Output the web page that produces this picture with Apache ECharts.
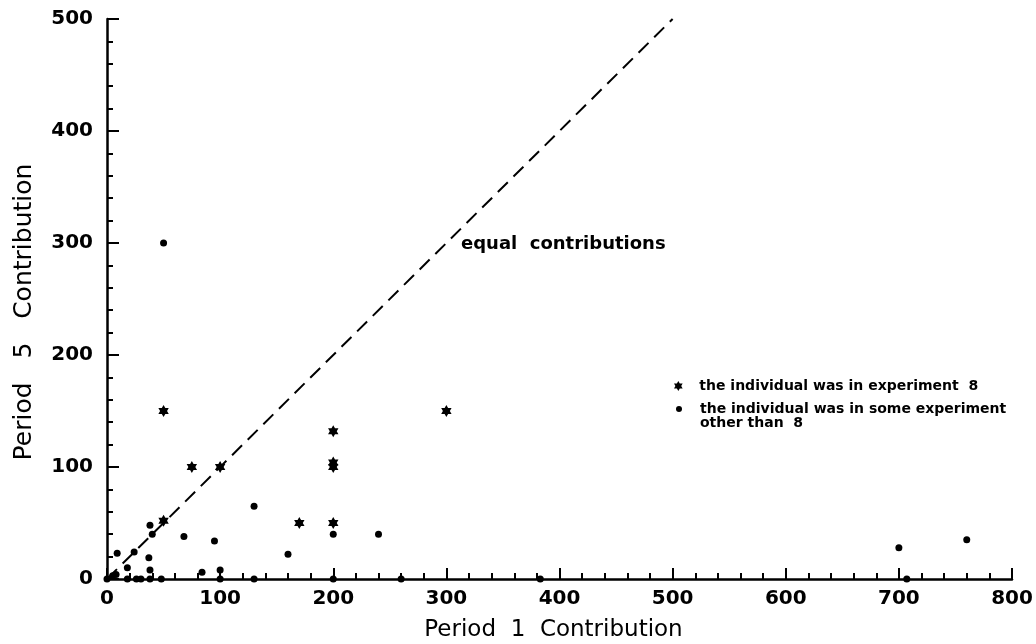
<!DOCTYPE html>
<html>
<head>
<meta charset="utf-8">
<script src="https://cdn.jsdelivr.net/npm/echarts@6/dist/echarts.min.js"></script>
<style>
html,body{margin:0;padding:0;background:#fff;}
#chart{width:1036px;height:644px;}
</style>
</head>
<body>
<div id="chart"></div>
<script>
// ---- data ----
var xTicks = [0, 100, 200, 300, 400, 500, 600, 700, 800];
var yTicks = [0, 100, 200, 300, 400, 500];
var experiment8 = [
  [50, 150], [75, 100], [100, 100], [50, 52], [170, 50],
  [200, 50], [200, 132], [200, 104], [200, 100], [300, 150]
];
var otherExperiments = [
  [0, 0], [5, 3], [8, 4], [18, 10], [9, 23], [24, 24], [38, 48], [40, 40],
  [37, 19], [38, 8], [18, 0], [26, 0], [30, 0], [38, 0], [48, 0],
  [50, 300], [68, 38], [84, 6], [95, 34], [100, 8], [100, 0], [130, 65],
  [130, 0], [160, 22], [200, 40], [200, 0], [240, 40], [260, 0],
  [383, 0], [700, 28], [707, 0], [760, 35]
];
var equalLine = [[0, 0], [500, 500]];
var legendNames = [
  'the individual was in experiment  8',
  'the individual was in some experiment'
];
var legendContinuation = 'other than  8';

var starPath = 'path://M50,0L64.5,24.9L93.3,25L79,50L93.3,75L64.5,75.1L50,100L35.5,75.1L6.7,75L21,50L6.7,25L35.5,24.9Z';

var chart = echarts.init(document.getElementById('chart'));
var tickFont = {fontFamily: 'DejaVu Sans', fontSize: 20, fontWeight: 'bold', color: '#000'};
var axisLine = {show: true, onZero: false, lineStyle: {color: '#000', width: 2.5}};
var legendText = {fontFamily: 'DejaVu Sans', fontSize: 14, fontWeight: 'bold', color: '#000', lineHeight: 16};

chart.setOption({
  backgroundColor: '#fff',
  animation: false,
  grid: {left: 107, right: 24, top: 19, bottom: 65, containLabel: false, outerBoundsMode: 'none'},
  xAxis: {
    type: 'value', min: xTicks[0], max: xTicks[xTicks.length - 1], interval: 100,
    axisLine: axisLine,
    axisTick: {show: true, inside: true, length: 11, lineStyle: {color: '#000', width: 2}},
    minorTick: {show: true, splitNumber: 5, length: 6, lineStyle: {color: '#000', width: 2}},
    splitLine: {show: false},
    axisLabel: Object.assign({margin: 10}, tickFont),
    name: 'Period  1  Contribution',
    nameLocation: 'middle', nameGap: 40,
    nameTextStyle: {fontFamily: 'DejaVu Sans', fontSize: 23, color: '#000', padding: [0, 12, 0, 0]}
  },
  yAxis: {
    type: 'value', min: yTicks[0], max: yTicks[yTicks.length - 1], interval: 100,
    axisLine: axisLine,
    axisTick: {show: true, inside: true, length: 12, lineStyle: {color: '#000', width: 2}},
    minorTick: {show: true, splitNumber: 5, length: 6, lineStyle: {color: '#000', width: 2}},
    splitLine: {show: false},
    axisLabel: Object.assign({margin: 14}, tickFont),
    name: 'Period   5   Contribution',
    nameLocation: 'middle', nameGap: 70,
    nameTextStyle: {fontFamily: 'DejaVu Sans', fontSize: 25, color: '#000', padding: [0, 26, 0, 0]}
  },
  legend: [{
    orient: 'vertical', left: 674, top: 378, padding: 0,
    itemWidth: 10, itemHeight: 10,
    textStyle: Object.assign({padding: [0, 0, 0, 11]}, legendText),
    data: [{name: legendNames[0], icon: starPath}]
  }, {
    orient: 'vertical', left: 676, top: 401, padding: 0,
    itemWidth: 6, itemHeight: 6,
    textStyle: Object.assign({padding: [0, 0, 0, 13]}, legendText),
    data: [{name: legendNames[1], icon: 'circle'}]
  }],
  graphic: [{
    type: 'text', left: 461, top: 235,
    style: {text: 'equal  contributions', font: 'bold 18px "DejaVu Sans"', fill: '#000'}
  }, {
    type: 'text', left: 700, top: 416,
    style: {text: legendContinuation, font: 'bold 14px "DejaVu Sans"', fill: '#000'}
  }],
  series: [
    {
      name: legendNames[0], type: 'scatter', data: experiment8,
      symbol: starPath, symbolKeepAspect: true, symbolSize: 12,
      itemStyle: {color: '#000', opacity: 1}, z: 3
    },
    {
      name: legendNames[1], type: 'scatter', data: otherExperiments,
      symbol: 'circle', symbolSize: 7,
      itemStyle: {color: '#000', opacity: 1}, z: 3,
      markLine: {
        silent: true, symbol: 'none', animation: false,
        label: {show: false},
        lineStyle: {color: '#000', width: 2, type: [14, 8]},
        data: [[{coord: equalLine[0]}, {coord: equalLine[1]}]]
      }
    }
  ]
});
</script>
</body>
</html>
